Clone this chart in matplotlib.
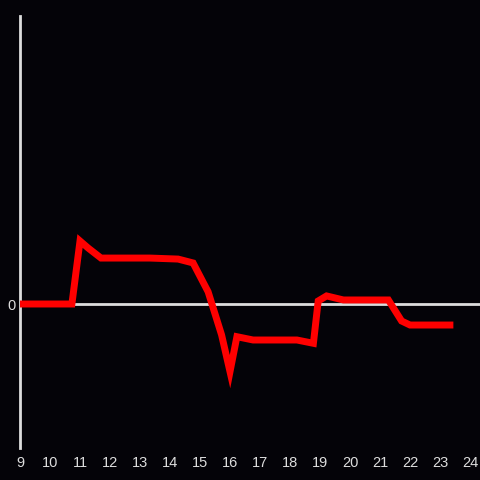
import matplotlib
matplotlib.use("Agg")
import matplotlib.pyplot as plt

# hour of day vs. relative value
hours = [9.0, 10.73, 11.0, 11.27, 11.7, 13.33, 14.27, 14.77, 15.27, 15.72, 16.0,
         16.23, 16.77, 18.23, 18.78, 18.94, 19.22, 19.78, 21.28, 21.72, 22.0, 23.33]
values = [0.0, 0.0, 0.4375, 0.389, 0.319, 0.319, 0.312, 0.285, 0.085, -0.215, -0.47,
          -0.227, -0.25, -0.25, -0.273, 0.021, 0.056, 0.028, 0.028, -0.118, -0.146, -0.146]
xticks = list(range(9, 25))

bg = "#040308"
fg = "#dddddd"

fig = plt.figure(figsize=(4.8, 4.8), dpi=100, facecolor=bg)
ax = fig.add_axes([20 / 480, 32 / 480, 460 / 480, 432 / 480], facecolor=bg)

ax.axhline(0, color=fg, lw=2, zorder=1)
ax.plot(hours, values, color="#ff0000", lw=5, solid_joinstyle="miter", zorder=3)

ax.set_xlim(9, 9 + 460 / 30)
ax.set_ylim(-1, 2)

for side in ["top", "right", "bottom"]:
    ax.spines[side].set_visible(False)
ax.spines["left"].set_color(fg)
ax.spines["left"].set_linewidth(2)

ax.set_xticks(xticks)
ax.set_xticklabels([str(t) for t in xticks])
ax.set_yticks([0])
ax.set_yticklabels(["0"])
ax.tick_params(axis="both", length=0, colors=fg, labelsize=10.5)
ax.tick_params(axis="x", pad=6)
ax.tick_params(axis="y", pad=3)
for lab in ax.get_xticklabels() + ax.get_yticklabels():
    lab.set_fontfamily("Liberation Sans")

fig.savefig("out.png", dpi=100, facecolor=bg)
